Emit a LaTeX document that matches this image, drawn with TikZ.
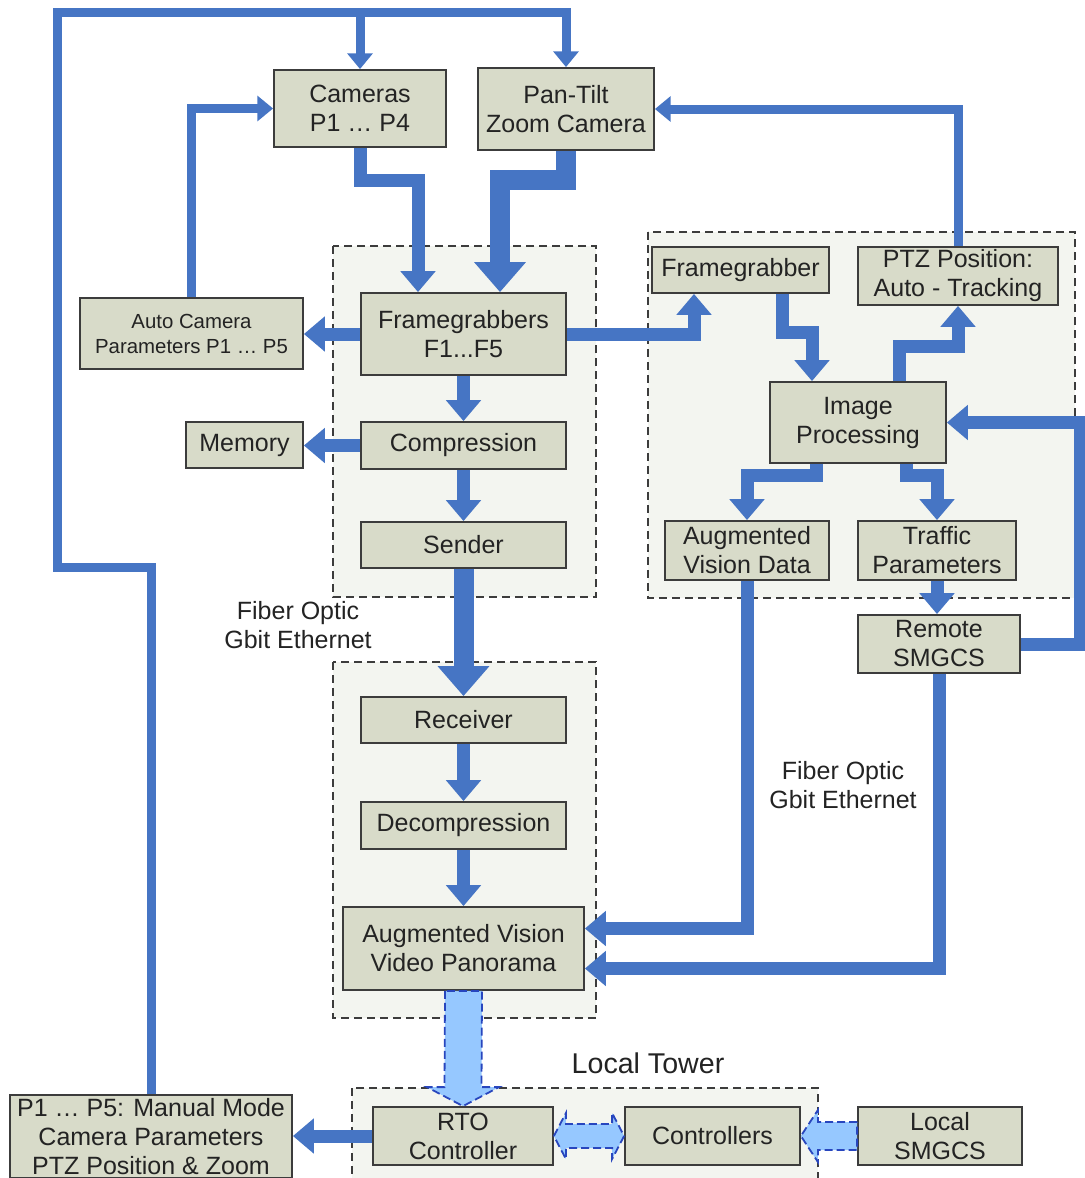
\documentclass[tikz,border=0pt]{standalone}
\usepackage{fontspec}
\setmainfont{Liberation Sans}
\usetikzlibrary{arrows.meta,calc}

\definecolor{flowblue}{RGB}{70,117,196}
\definecolor{boxfill}{RGB}{216,219,201}
\definecolor{boxline}{RGB}{60,60,60}
\definecolor{grpfill}{RGB}{243,245,240}
\definecolor{softfill}{RGB}{150,200,255}
\definecolor{softline}{RGB}{40,70,190}
\definecolor{txt}{RGB}{35,35,35}

\begin{document}
\begin{tikzpicture}[x=0.5pt, y=-0.5pt,
  blk/.style={draw=boxline, fill=boxfill, line width=0.9pt, align=center, inner sep=0pt,
    text=txt, font=\fontsize{12.5}{14.5}\selectfont},
  grp/.style={draw=boxline, fill=grpfill, line width=0.8pt, dash pattern=on 4pt off 2.5pt},
  flow/.style={draw=flowblue, line width=6.5pt, -{Triangle[length=2pt 1.3, width=2pt 2.3]}},
  thinflow/.style={flow, line width=4.5pt},
  wideflow/.style={flow, line width=10pt},
  soft/.style={draw=softline, fill=softfill, line width=0.9pt, dash pattern=on 4pt off 2pt},
  lbl/.style={align=center, text=txt, font=\fontsize{12.5}{14.5}\selectfont}]
  \useasboundingbox (0,0) rectangle (1085,1178);
  \clip (0,0) rectangle (1085,1178);

  % dashed groups
  \draw[grp] (333,246) rectangle (596,597);
  \draw[grp] (333,662) rectangle (596,1018);
  \draw[grp] (648,232) rectangle (1075,598);
  \draw[grp] (352,1088) rectangle (818,1200);

  % cameras
  \node[blk, minimum width=86pt, minimum height=38.5pt] (cam) at (360,108.5) {Cameras\\P1 … P4};
  \node[blk, minimum width=88pt, minimum height=41pt] (ptz) at (566,109) {Pan-Tilt\\Zoom Camera};

  % sending side
  \node[blk, minimum width=102.5pt, minimum height=41pt] (fgs) at (463.5,334) {Framegrabbers\\F1...F5};
  \node[blk, minimum width=111.5pt, minimum height=35.5pt, font=\fontsize{10.2}{12.5}\selectfont]
    (autocam) at (191.5,333.5) {Auto Camera\\Parameters P1 … P5};
  \node[blk, minimum width=102.5pt, minimum height=23.5pt] (comp) at (463.5,445.5) {Compression};
  \node[blk, minimum width=58.5pt, minimum height=23pt] (mem) at (244.5,445) {Memory};
  \node[blk, minimum width=102.5pt, minimum height=23pt] (send) at (463.5,545) {Sender};

  % receiving side
  \node[blk, minimum width=102.5pt, minimum height=23pt] (recv) at (463.5,720) {Receiver};
  \node[blk, minimum width=102.5pt, minimum height=23.5pt] (decomp) at (463.5,825.5) {Decompression};
  \node[blk, minimum width=120.5pt, minimum height=41.5pt] (avp) at (463.5,948.5) {Augmented Vision\\Video Panorama};

  % processing
  \node[blk, minimum width=88.5pt, minimum height=23pt] (fg) at (740.5,270) {Framegrabber};
  \node[blk, minimum width=100pt, minimum height=29pt] (ptzpos) at (958,276) {PTZ Position:\\Auto - Tracking};
  \node[blk, minimum width=88pt, minimum height=40.5pt] (imgp) at (858,422.5) {Image\\Processing};
  \node[blk, minimum width=82pt, minimum height=29.5pt] (avd) at (747,550.5) {Augmented\\Vision Data};
  \node[blk, minimum width=79pt, minimum height=29.5pt] (traffic) at (937,550.5) {Traffic\\Parameters};
  \node[blk, minimum width=81pt, minimum height=29pt] (remote) at (939,644) {Remote\\SMGCS};

  % tower
  \node[blk, minimum width=90pt, minimum height=29pt] (rto) at (463,1136) {RTO\\Controller};
  \node[blk, minimum width=87.5pt, minimum height=29pt] (ctrl) at (712.5,1136) {Controllers};
  \node[blk, minimum width=82pt, minimum height=29pt] (localsm) at (940,1136) {Local\\SMGCS};
  \node[blk, minimum width=141pt, minimum height=41.5pt] (manual) at (151,1136.5)
    {P1 … P5: Manual Mode\\Camera Parameters\\PTZ Position \& Zoom};

  \node[lbl] (fo1) at (298,625) {Fiber Optic\\Gbit Ethernet};
  \node[lbl] (fo2) at (843,785) {Fiber Optic\\Gbit Ethernet};
  \node[lbl, font=\fontsize{14.3}{17}\selectfont] (tower) at (648,1063) {Local Tower};

  % manual camera control loop
  \coordinate (rail) at (0,12);
  \draw[thinflow] (manual.north) |- (57,567) |- (rail -| ptz.north) -- (ptz.north);
  \draw[thinflow] (rail -| cam.north) -- (cam.north);
  \draw[thinflow] (autocam.north) |- (cam.west);
  \draw[thinflow] (ptzpos.north) |- (ptz.east);

  % video path
  \draw[flow] (cam.south) |- (418,180) -- (418,0 |- fgs.north);
  \draw[wideflow] (ptz.south) |- (500,180) -- (500,0 |- fgs.north);
  \draw[flow] (fgs.west) -- (autocam.east |- fgs.west);
  \draw[flow] (fgs.east) -| (694,0 |- fg.south);
  \draw[flow] (fgs.south) -- (comp.north);
  \draw[flow] (comp.west) -- (mem.east |- comp.west);
  \draw[flow] (comp.south) -- (send.north);
  \draw[wideflow] (send.south) -- (recv.north);
  \draw[flow] (recv.south) -- (decomp.north);
  \draw[flow] (decomp.south) -- (avp.north);

  % image processing
  \draw[flow] (782,0 |- fg.south) |- (812,332) -- (812,0 |- imgp.north);
  \draw[flow] (899,0 |- imgp.north) |- (958,346) -- (ptzpos.south);
  \draw[flow] (816,0 |- imgp.south) |- (747,475) -- (avd.north);
  \draw[flow] (906,0 |- imgp.south) |- (937,475) -- (traffic.north);
  \draw[flow] (traffic.south) -- (remote.north -| traffic.south);
  \draw[flow] (remote.east) -| (1080,0 |- imgp.east) -- (imgp.east);
  \draw[flow] (avd.south) |- ($(avp.east)+(0,-20)$);
  \draw[flow] (remote.south) |- ($(avp.east)+(0,20)$);
  \draw[flow] (rto.west) -- (manual.east |- rto.west);

  % local links
  \draw[soft] ($(avp.south)+(-18.5,0)$) -- ($(rto.north)+(-18.5,-19)$) -- ($(rto.north)+(-36,-19)$)
    -- (rto.north) -- ($(rto.north)+(36,-19)$) -- ($(rto.north)+(18.5,-19)$)
    -- ($(avp.south)+(18.5,0)$) -- cycle;
  \draw[soft] (rto.east) -- ($(rto.east)+(12,-23)$) -- ($(rto.east)+(12,-12)$)
    -- ($(ctrl.west)+(-12,-12)$) -- ($(ctrl.west)+(-12,-23)$) -- (ctrl.west)
    -- ($(ctrl.west)+(-12,23)$) -- ($(ctrl.west)+(-12,12)$) -- ($(rto.east)+(12,12)$)
    -- ($(rto.east)+(12,23)$) -- cycle;
  \draw[soft] ($(localsm.west)+(0,-14)$) -- ($(ctrl.east)+(17,-14)$) -- ($(ctrl.east)+(17,-26)$)
    -- (ctrl.east) -- ($(ctrl.east)+(17,26)$) -- ($(ctrl.east)+(17,14)$)
    -- ($(localsm.west)+(0,14)$) -- cycle;
\end{tikzpicture}
\end{document}
